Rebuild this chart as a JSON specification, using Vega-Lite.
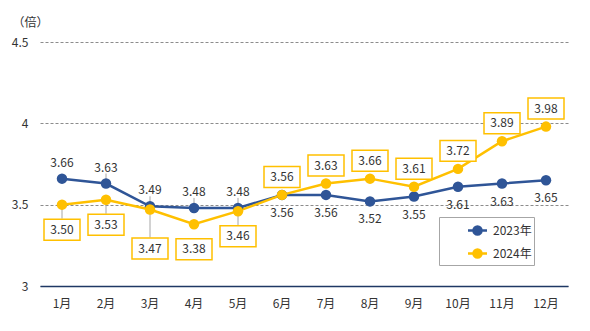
{
  "$schema": "https://vega.github.io/schema/vega-lite/v6.json",
  "width": 528,
  "height": 244,
  "autosize": {"type": "none"},
  "padding": {"left": 40, "top": 42, "right": 22, "bottom": 45},
  "background": "white",
  "config": {
    "font": "Noto Sans CJK JP",
    "view": {"stroke": null},
    "axis": {"labelFont": "Noto Sans CJK JP", "labelColor": "#333333", "labelFontSize": 12, "titleFont": "Noto Sans CJK JP"}
  },
  "data": {
    "values": [
      {"month": "1月", "m": 1, "year": "2023年", "value": 3.66},
      {"month": "2月", "m": 2, "year": "2023年", "value": 3.63},
      {"month": "3月", "m": 3, "year": "2023年", "value": 3.49},
      {"month": "4月", "m": 4, "year": "2023年", "value": 3.48},
      {"month": "5月", "m": 5, "year": "2023年", "value": 3.48},
      {"month": "6月", "m": 6, "year": "2023年", "value": 3.56},
      {"month": "7月", "m": 7, "year": "2023年", "value": 3.56},
      {"month": "8月", "m": 8, "year": "2023年", "value": 3.52},
      {"month": "9月", "m": 9, "year": "2023年", "value": 3.55},
      {"month": "10月", "m": 10, "year": "2023年", "value": 3.61},
      {"month": "11月", "m": 11, "year": "2023年", "value": 3.63},
      {"month": "12月", "m": 12, "year": "2023年", "value": 3.65},
      {"month": "1月", "m": 1, "year": "2024年", "value": 3.50},
      {"month": "2月", "m": 2, "year": "2024年", "value": 3.53},
      {"month": "3月", "m": 3, "year": "2024年", "value": 3.47},
      {"month": "4月", "m": 4, "year": "2024年", "value": 3.38},
      {"month": "5月", "m": 5, "year": "2024年", "value": 3.46},
      {"month": "6月", "m": 6, "year": "2024年", "value": 3.56},
      {"month": "7月", "m": 7, "year": "2024年", "value": 3.63},
      {"month": "8月", "m": 8, "year": "2024年", "value": 3.66},
      {"month": "9月", "m": 9, "year": "2024年", "value": 3.61},
      {"month": "10月", "m": 10, "year": "2024年", "value": 3.72},
      {"month": "11月", "m": 11, "year": "2024年", "value": 3.89},
      {"month": "12月", "m": 12, "year": "2024年", "value": 3.98}
    ]
  },
  "encoding": {
    "x": {
      "field": "month", "type": "ordinal", "sort": {"field": "m"},
      "scale": {"paddingInner": 0, "paddingOuter": 0},
      "axis": {"title": null, "labelAngle": 0, "ticks": false, "labelPadding": 12, "domainColor": "#1F3864", "domainWidth": 1.5, "grid": false}
    },
    "y": {
      "field": "value", "type": "quantitative",
      "scale": {"domain": [3, 4.5], "nice": false, "zero": false},
      "axis": {
        "values": [3, 3.5, 4, 4.5], "labelExpr": "'' + datum.value",
        "domain": false, "ticks": false, "labelPadding": 12,
        "grid": true, "gridDash": [3, 2], "gridColor": "#8C8C8C", "gridWidth": 1,
        "title": "（倍）", "titleAngle": 0, "titleAlign": "left", "titleBaseline": "middle",
        "titleX": -28, "titleY": -20, "titleFontSize": 12, "titleFontWeight": "normal", "titleColor": "#333333"
      }
    }
  },
  "layer": [
    {
      "transform": [{"filter": "datum.year == '2024年' && (datum.m == 1 || datum.m == 2 || datum.m == 5)"}],
      "mark": {"type": "rule", "color": "#A6A6A6", "strokeWidth": 1, "y2Offset": 14},
      "encoding": {"y2": {"field": "value"}}
    },
    {
      "transform": [{"filter": "datum.year == '2024年' && datum.m == 3"}],
      "mark": {"type": "rule", "color": "#A6A6A6", "strokeWidth": 1, "y2Offset": 28},
      "encoding": {"y2": {"field": "value"}}
    },
    {
      "transform": [{"filter": "datum.year == '2023年' && datum.m >= 2 && datum.m <= 5"}],
      "mark": {"type": "rule", "color": "#A6A6A6", "strokeWidth": 1, "y2Offset": -10},
      "encoding": {"y2": {"field": "value"}}
    },
    {
      "mark": {"type": "line", "strokeWidth": 2.5},
      "encoding": {
        "color": {
          "field": "year", "type": "nominal",
          "scale": {"domain": ["2023年", "2024年"], "range": ["#2F5597", "#FFC000"]},
          "legend": {
            "title": null, "orient": "none", "legendX": 399, "legendY": 175,
            "strokeColor": "#A6A6A6", "padding": 2, "fillColor": "white",
            "symbolType": "M-0.95,0L0.95,0M-0.4,0A0.4,0.4,0,1,1,0.4,0A0.4,0.4,0,1,1,-0.4,0Z",
            "symbolSize": 400, "symbolStrokeWidth": 2.5, "symbolOffset": 25,
            "labelFontSize": 12, "labelColor": "#333333", "labelFont": "Noto Sans CJK JP",
            "labelOffset": 4, "rowPadding": 2, "labelExpr": "datum.label + '\u3000\u3000'"
          }
        }
      }
    },
    {
      "mark": {"type": "point", "filled": true, "size": 110, "opacity": 1},
      "encoding": {"color": {"field": "year", "type": "nominal"}}
    },
    {
      "transform": [{"filter": "datum.year == '2024年' && datum.m != 3 && datum.m <= 5"}],
      "layer": [
        {"mark": {"type": "point", "shape": "M-1,-0.583L1,-0.583L1,0.583L-1,0.583Z", "size": 1296, "fill": "white", "filled": true, "stroke": "#FFC000", "strokeWidth": 1.5, "opacity": 1, "yOffset": 25}},
        {"mark": {"type": "text", "fontSize": 12, "color": "#333333", "yOffset": 25, "baseline": "middle"}, "encoding": {"text": {"field": "value", "format": ".2f"}}}
      ]
    },
    {
      "transform": [{"filter": "datum.year == '2024年' && datum.m == 3"}],
      "layer": [
        {"mark": {"type": "point", "shape": "M-1,-0.583L1,-0.583L1,0.583L-1,0.583Z", "size": 1296, "fill": "white", "filled": true, "stroke": "#FFC000", "strokeWidth": 1.5, "opacity": 1, "yOffset": 39}},
        {"mark": {"type": "text", "fontSize": 12, "color": "#333333", "yOffset": 39, "baseline": "middle"}, "encoding": {"text": {"field": "value", "format": ".2f"}}}
      ]
    },
    {
      "transform": [{"filter": "datum.year == '2024年' && datum.m >= 6"}],
      "layer": [
        {"mark": {"type": "point", "shape": "M-1,-0.583L1,-0.583L1,0.583L-1,0.583Z", "size": 1296, "fill": "white", "filled": true, "stroke": "#FFC000", "strokeWidth": 1.5, "opacity": 1, "yOffset": -18}},
        {"mark": {"type": "text", "fontSize": 12, "color": "#333333", "yOffset": -18, "baseline": "middle"}, "encoding": {"text": {"field": "value", "format": ".2f"}}}
      ]
    },
    {
      "transform": [{"filter": "datum.year == '2023年' && datum.m <= 5"}],
      "mark": {"type": "text", "fontSize": 12, "color": "#333333", "yOffset": -16, "baseline": "middle"},
      "encoding": {"text": {"field": "value", "format": ".2f"}}
    },
    {
      "transform": [{"filter": "datum.year == '2023年' && datum.m >= 6"}],
      "mark": {"type": "text", "fontSize": 12, "color": "#333333", "yOffset": 18, "baseline": "middle"},
      "encoding": {"text": {"field": "value", "format": ".2f"}}
    }
  ]
}
